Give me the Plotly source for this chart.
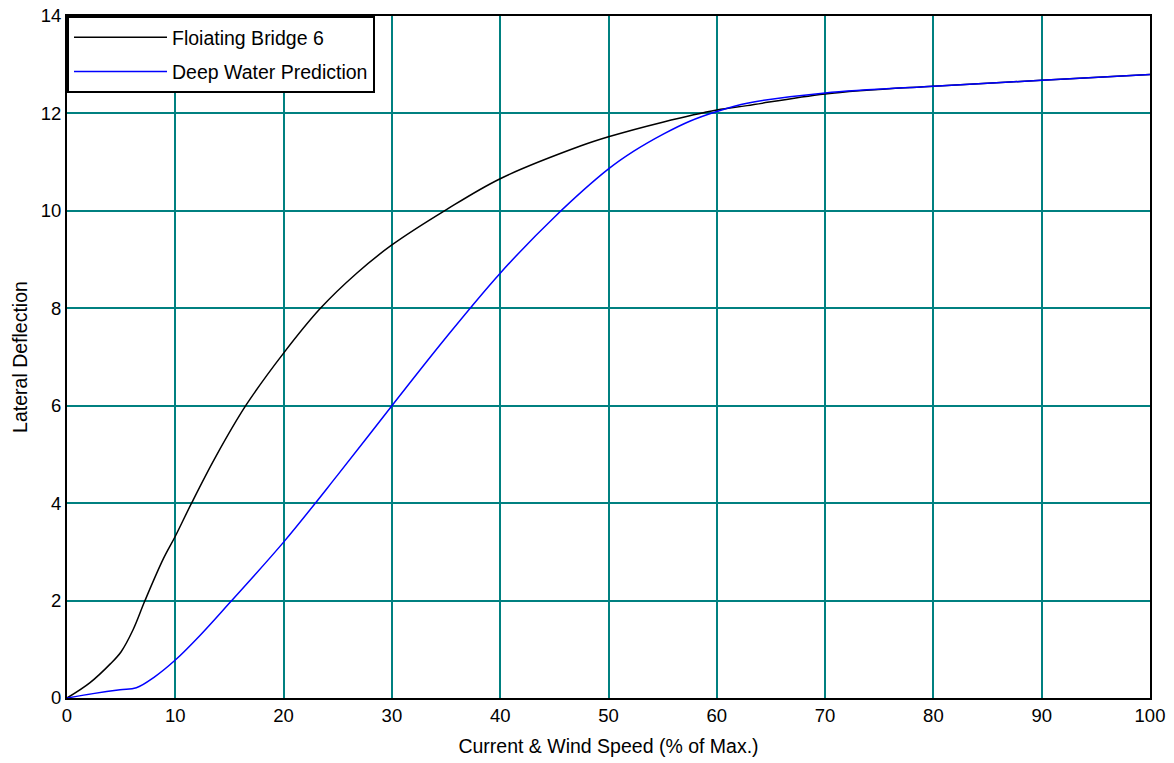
import plotly.graph_objects as go

# Lateral deflection vs. current & wind speed
speed_b6 = [0, 2.1, 4.0, 5.0, 6.1, 7.2, 8.9, 10, 11.5, 13.7, 16.5, 20, 23.4, 26.75, 30,
            35, 40, 47.4, 50, 55, 60, 62.8, 70, 80, 90, 100]
bridge6 = [0, 0.31, 0.7, 0.95, 1.4, 2.0, 2.86, 3.32, 4.0, 4.94, 6.0, 7.08, 8.0, 8.72, 9.3,
           10.02, 10.66, 11.33, 11.52, 11.82, 12.07, 12.16, 12.4, 12.56, 12.68, 12.8]

speed_dw = [0, 2.4, 4.9, 6.4, 8.0, 10, 12.3, 15, 20, 25, 30, 35, 40, 45, 50, 52.3, 55.1,
            57.5, 60, 62.8, 70, 80, 90, 100]
deep_water = [0, 0.09, 0.17, 0.21, 0.42, 0.78, 1.29, 1.95, 3.2, 4.58, 6.0, 7.4, 8.72, 9.87,
              10.86, 11.22, 11.58, 11.84, 12.04, 12.21, 12.42, 12.56, 12.68, 12.8]

x_ticks = list(range(0, 101, 10))
y_ticks = list(range(0, 15, 2))

fig = go.Figure()
fig.add_trace(go.Scatter(x=speed_b6, y=bridge6, mode="lines", name="Floiating Bridge 6",
                         legendgroup="b6",
                         line=dict(color="black", width=1.5, shape="spline", smoothing=1.0)))
fig.add_trace(go.Scatter(x=speed_dw, y=deep_water, mode="lines", name="Deep Water Prediction",
                         legendgroup="dw",
                         line=dict(color="#0000ff", width=1.5, shape="spline", smoothing=1.0)))

axis_common = dict(showgrid=True, gridcolor="#008080", gridwidth=2, zeroline=False,
                   showline=True, linecolor="black", linewidth=2, mirror=True,
                   ticks="", automargin=False, tickfont=dict(size=18.5, color="black"))

fig.update_layout(
    width=1174, height=763,
    margin=dict(l=67, r=24, t=16, b=65),
    paper_bgcolor="white", plot_bgcolor="white",
    font=dict(family="Liberation Sans, Arial, sans-serif", color="black"),
    xaxis=dict(range=[0, 100], tickvals=x_ticks,
               title=dict(text="Current & Wind Speed (% of Max.)", font=dict(size=19.5),
                          standoff=14),
               **axis_common),
    yaxis=dict(range=[0, 14], tickvals=y_ticks,
               title=dict(text="Lateral Deflection", font=dict(size=19.5), standoff=8),
               **axis_common),
    legend=dict(x=0, y=1, xanchor="left", yanchor="top", bgcolor="white",
                bordercolor="black", borderwidth=2, font=dict(size=19.5),
                itemwidth=93, tracegroupgap=6),
    showlegend=True,
)

fig.write_html("out.html")
